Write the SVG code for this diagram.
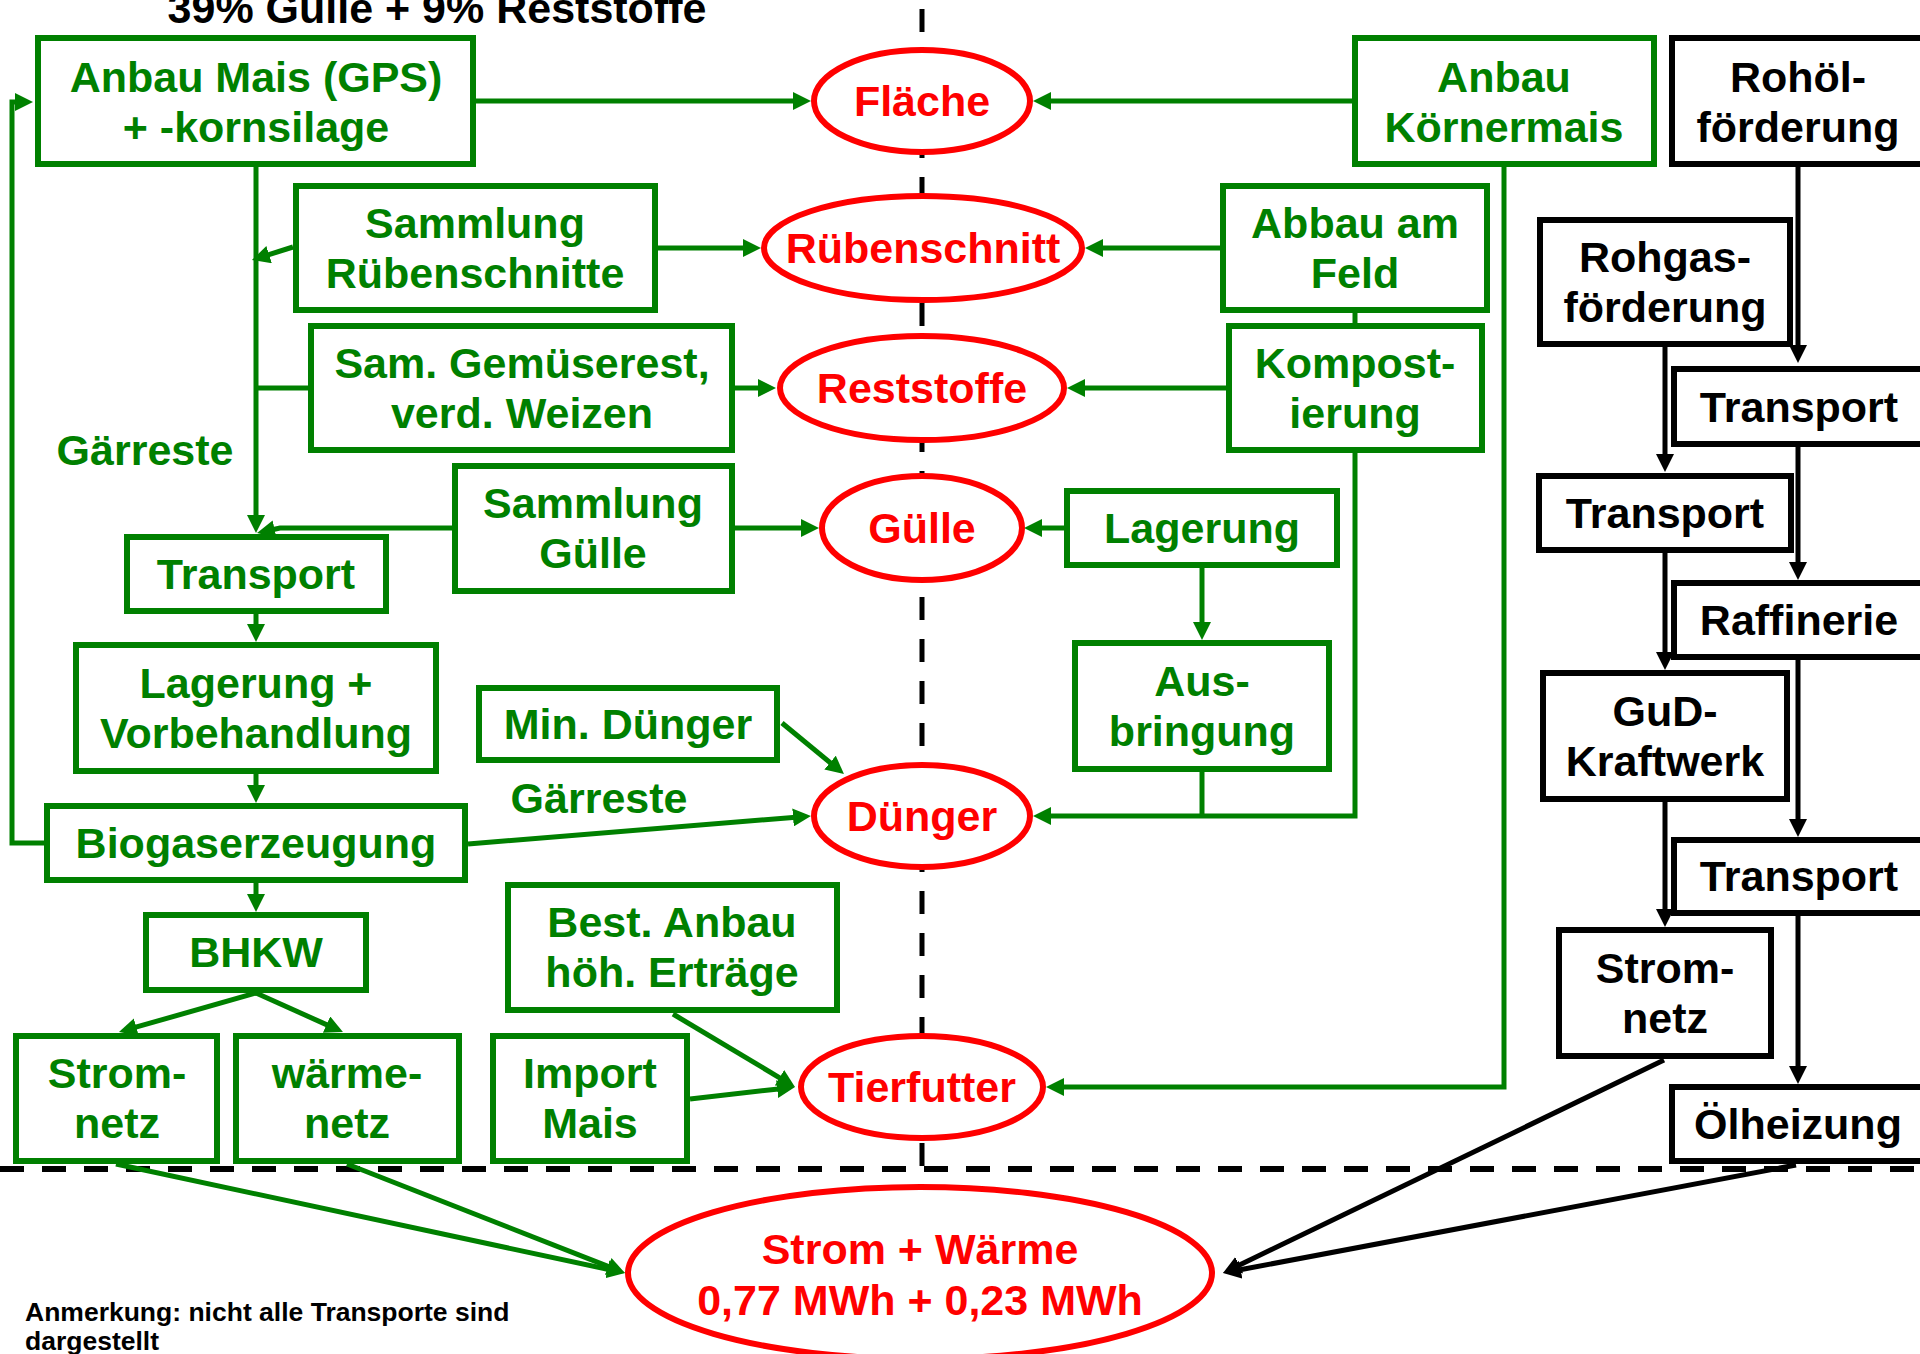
<svg xmlns="http://www.w3.org/2000/svg" width="1920" height="1354" viewBox="0 0 1920 1354">
<style>
text{font-family:"Liberation Sans",Arial,sans-serif;font-weight:bold;font-size:43px;text-anchor:middle}
.g rect{fill:#fff;stroke:#008000;stroke-width:6}
.g text{fill:#008000}
.k rect{fill:#fff;stroke:#000;stroke-width:6}
.k text{fill:#000}
.r ellipse{fill:#fff;stroke:#f00;stroke-width:6}
.r text{fill:#f00}
.cg{fill:none;stroke:#008000;stroke-width:5;marker-end:url(#ag)}
.cgn{fill:none;stroke:#008000;stroke-width:5}
.ck{fill:none;stroke:#000;stroke-width:5;marker-end:url(#ak)}
.lbl{fill:#008000}
.note{fill:#000;font-size:26.5px;text-anchor:start}
</style>
<defs>
<marker id="ag" markerUnits="userSpaceOnUse" viewBox="0 0 18 18" markerWidth="18" markerHeight="18" refX="6" refY="9" orient="auto"><path d="M0,0 L18,9 L0,18 z" fill="#008000"/></marker>
<marker id="ak" markerUnits="userSpaceOnUse" viewBox="0 0 18 18" markerWidth="18" markerHeight="18" refX="6" refY="9" orient="auto"><path d="M0,0 L18,9 L0,18 z" fill="#000"/></marker>
</defs>
<rect width="1920" height="1354" fill="#fff"/>
<g id="dividers">
<line x1="922" y1="-33" x2="922" y2="1169" stroke="#000" stroke-width="5" stroke-dasharray="23 19"/>
<line x1="0" y1="1169" x2="1920" y2="1169" stroke="#000" stroke-width="6" stroke-dasharray="24 18"/>
</g>
<g id="connectors">
<path class="cg" d="M476,101 H799"/>
<path class="cg" d="M1352,101 H1045"/>
<path class="cg" d="M658,248 H749"/>
<path class="cg" d="M1220,248 H1097"/>
<path class="cg" d="M735,388 H764"/>
<path class="cg" d="M1226,388 H1079"/>
<path class="cg" d="M735,528 H807"/>
<path class="cg" d="M1064,528 H1036"/>
<path class="cg" d="M256,167 V521"/>
<path class="cg" d="M293,247 L263.4,256.4"/>
<path class="cgn" d="M308,388 H256"/>
<path class="cg" d="M452,528 L280,528 L268.7,530.5"/>
<path class="cg" d="M256,614 V630"/>
<path class="cg" d="M256,774 V791"/>
<path class="cg" d="M256,883 V900"/>
<path class="cg" d="M44,843 H12 V102 H21"/>
<path class="cg" d="M468,844 L799,817"/>
<path class="cg" d="M782,723 L834.7,766.4"/>
<path class="cg" d="M1355,453 V816 H1045"/>
<path class="cgn" d="M1202,772 V816"/>
<path class="cg" d="M1202,568 V628"/>
<path class="cgn" d="M1355,313 V323"/>
<path class="cg" d="M1504,167 V1087 H1058"/>
<path class="cg" d="M673,1014 L784.7,1080.8"/>
<path class="cg" d="M690,1099 L783.1,1088.4"/>
<path class="cg" d="M256,993 L130.5,1028.7"/>
<path class="cg" d="M256,993 L332,1027.1"/>
<path class="cg" d="M116,1164 L613.3,1270.5"/>
<path class="cg" d="M347,1164 L613.8,1268.6"/>
<path class="ck" d="M1798,167 V351"/>
<path class="ck" d="M1665,347 V460"/>
<path class="ck" d="M1798,447 V568"/>
<path class="ck" d="M1665,553 V658"/>
<path class="ck" d="M1798,660 V825"/>
<path class="ck" d="M1665,802 V915"/>
<path class="ck" d="M1798,916 V1072"/>
<path class="ck" d="M1664,1060 L1233.8,1267.8"/>
<path class="ck" d="M1796,1165 L1234.8,1270.8"/>
</g>
<g id="labels">
<text x="437" y="23" fill="#000">39% Gülle + 9% Reststoffe</text>
<text class="lbl" x="145" y="465">Gärreste</text>
<text class="lbl" x="599" y="813">Gärreste</text>
<text class="note" x="25" y="1321">Anmerkung: nicht alle Transporte sind</text>
<text class="note" x="25" y="1350">dargestellt</text>
</g>
<g id="n-anbau-mais" class="g"><rect x="38" y="38" width="435" height="126"/><text x="256" y="92">Anbau Mais (GPS)</text><text x="256" y="142">+ -kornsilage</text></g>
<g id="n-anbau-koernermais" class="g"><rect x="1355" y="38" width="299" height="126"/><text x="1504" y="92">Anbau</text><text x="1504" y="142">Körnermais</text></g>
<g id="n-rohoel" class="k"><rect x="1672" y="38" width="252" height="126"/><text x="1798" y="92">Rohöl-</text><text x="1798" y="142">förderung</text></g>
<g id="n-sammlung-rueben" class="g"><rect x="296" y="186" width="359" height="124"/><text x="475" y="238">Sammlung</text><text x="475" y="288">Rübenschnitte</text></g>
<g id="n-abbau" class="g"><rect x="1223" y="186" width="264" height="124"/><text x="1355" y="238">Abbau am</text><text x="1355" y="288">Feld</text></g>
<g id="n-gemuese" class="g"><rect x="311" y="326" width="421" height="124"/><text x="522" y="378">Sam. Gemüserest,</text><text x="522" y="428">verd. Weizen</text></g>
<g id="n-kompost" class="g"><rect x="1229" y="326" width="253" height="124"/><text x="1355" y="378">Kompost-</text><text x="1355" y="428">ierung</text></g>
<g id="n-rohgas" class="k"><rect x="1540" y="220" width="250" height="124"/><text x="1665" y="272">Rohgas-</text><text x="1665" y="322">förderung</text></g>
<g id="n-transport-k1" class="k"><rect x="1674" y="369" width="250" height="75"/><text x="1799" y="422">Transport</text></g>
<g id="n-sammlung-guelle" class="g"><rect x="455" y="466" width="277" height="125"/><text x="593" y="518">Sammlung</text><text x="593" y="568">Gülle</text></g>
<g id="n-lagerung" class="g"><rect x="1067" y="491" width="270" height="74"/><text x="1202" y="543">Lagerung</text></g>
<g id="n-transport-g" class="g"><rect x="127" y="537" width="259" height="74"/><text x="256" y="589">Transport</text></g>
<g id="n-transport-k2" class="k"><rect x="1539" y="476" width="252" height="74"/><text x="1665" y="528">Transport</text></g>
<g id="n-raffinerie" class="k"><rect x="1674" y="583" width="250" height="74"/><text x="1799" y="635">Raffinerie</text></g>
<g id="n-lagerung-vorbeh" class="g"><rect x="76" y="645" width="360" height="126"/><text x="256" y="698">Lagerung +</text><text x="256" y="748">Vorbehandlung</text></g>
<g id="n-min-duenger" class="g"><rect x="479" y="688" width="298" height="72"/><text x="628" y="739">Min. Dünger</text></g>
<g id="n-ausbringung" class="g"><rect x="1075" y="643" width="254" height="126"/><text x="1202" y="696">Aus-</text><text x="1202" y="746">bringung</text></g>
<g id="n-gud" class="k"><rect x="1543" y="673" width="244" height="126"/><text x="1665" y="726">GuD-</text><text x="1665" y="776">Kraftwerk</text></g>
<g id="n-biogas" class="g"><rect x="47" y="806" width="418" height="74"/><text x="256" y="858">Biogaserzeugung</text></g>
<g id="n-transport-k3" class="k"><rect x="1674" y="840" width="250" height="73"/><text x="1799" y="891">Transport</text></g>
<g id="n-bhkw" class="g"><rect x="146" y="915" width="220" height="75"/><text x="256" y="967">BHKW</text></g>
<g id="n-best-anbau" class="g"><rect x="508" y="885" width="329" height="125"/><text x="672" y="937">Best. Anbau</text><text x="672" y="987">höh. Erträge</text></g>
<g id="n-stromnetz-g" class="g"><rect x="16" y="1036" width="201" height="125"/><text x="117" y="1088">Strom-</text><text x="117" y="1138">netz</text></g>
<g id="n-waermenetz" class="g"><rect x="236" y="1036" width="223" height="125"/><text x="347" y="1088">wärme-</text><text x="347" y="1138">netz</text></g>
<g id="n-import-mais" class="g"><rect x="493" y="1036" width="194" height="125"/><text x="590" y="1088">Import</text><text x="590" y="1138">Mais</text></g>
<g id="n-stromnetz-k" class="k"><rect x="1559" y="930" width="212" height="126"/><text x="1665" y="983">Strom-</text><text x="1665" y="1033">netz</text></g>
<g id="n-oelheizung" class="k"><rect x="1672" y="1087" width="252" height="74"/><text x="1798" y="1139">Ölheizung</text></g>
<g id="n-flaeche" class="r"><ellipse cx="922" cy="101" rx="108" ry="51"/><text x="922" y="116">Fläche</text></g>
<g id="n-ruebenschnitt" class="r"><ellipse cx="923" cy="248" rx="159" ry="52"/><text x="923" y="263">Rübenschnitt</text></g>
<g id="n-reststoffe" class="r"><ellipse cx="922" cy="388" rx="142" ry="52"/><text x="922" y="403">Reststoffe</text></g>
<g id="n-guelle" class="r"><ellipse cx="922" cy="528" rx="100" ry="52"/><text x="922" y="543">Gülle</text></g>
<g id="n-duenger" class="r"><ellipse cx="922" cy="816" rx="108" ry="51"/><text x="922" y="831">Dünger</text></g>
<g id="n-tierfutter" class="r"><ellipse cx="922" cy="1087" rx="121" ry="51"/><text x="922" y="1102">Tierfutter</text></g>
<g id="n-strom-waerme" class="r"><ellipse cx="920" cy="1273" rx="292" ry="86"/><text x="920" y="1264">Strom + Wärme</text><text x="920" y="1315">0,77 MWh + 0,23 MWh</text></g>
</svg>
